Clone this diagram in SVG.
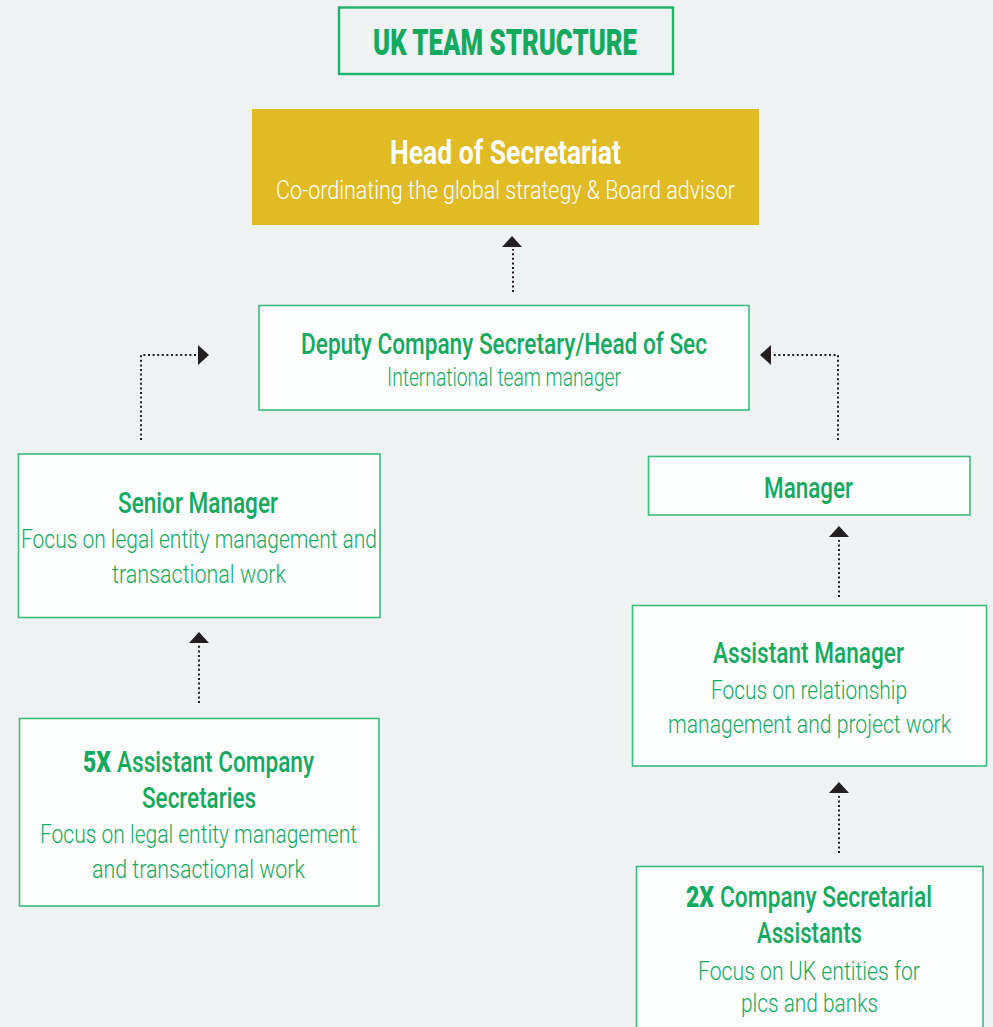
<svg xmlns="http://www.w3.org/2000/svg" width="993" height="1027" viewBox="0 0 993 1027">
<style>
.bg{fill:#eef2f3}
.box{fill:#fdfefe;stroke:#3dbb7b;stroke-width:1.6}
.t{font-family:Roboto,"Liberation Sans",sans-serif;fill:#13aa5f;text-anchor:start}
.h{font-size:29px;font-weight:500}
.b{font-size:25px;font-weight:300}
.x{font-size:29px;font-weight:900}
.dot{fill:none;stroke:#231f20;stroke-width:2;stroke-dasharray:2 2.6}
.arr{fill:#231f20}
</style>
<rect class="bg" x="0" y="0" width="993" height="1027"/>

<g id="title">
<rect x="339" y="7.5" width="334" height="66.5" fill="none" stroke="#1db36a" stroke-width="2.4"/>
<text class="t" x="373" y="55" font-size="37" font-weight="900" textLength="264" lengthAdjust="spacingAndGlyphs">UK TEAM STRUCTURE</text>
</g>

<g id="head">
<rect x="252" y="109" width="507" height="116" fill="#e0bb24"/>
<text class="t" x="390" y="164" font-size="34" font-weight="700" fill="#ffffff" style="fill:#ffffff" textLength="231" lengthAdjust="spacingAndGlyphs">Head of Secretariat</text>
<text class="t" x="276" y="199" font-size="26" font-weight="300" style="fill:#ffffff" textLength="459" lengthAdjust="spacingAndGlyphs">Co-ordinating the global strategy &amp; Board advisor</text>
</g>

<g id="deputy">
<rect class="box" x="259" y="305.5" width="490" height="104.5"/>
<text class="t h" x="301" y="354" textLength="406" lengthAdjust="spacingAndGlyphs">Deputy Company Secretary/Head of Sec</text>
<text class="t b" x="387" y="386" textLength="234" lengthAdjust="spacingAndGlyphs">International team manager</text>
</g>

<g id="senior">
<rect class="box" x="18.5" y="454" width="361.5" height="163.5"/>
<text class="t h" x="118" y="513" textLength="160" lengthAdjust="spacingAndGlyphs">Senior Manager</text>
<text class="t b" x="21" y="548" textLength="356" lengthAdjust="spacingAndGlyphs">Focus on legal entity management and</text>
<text class="t b" x="112" y="583" textLength="174" lengthAdjust="spacingAndGlyphs">transactional work</text>
</g>

<g id="assistant-secretaries">
<rect class="box" x="19.5" y="718.5" width="359.5" height="187.5"/>
<text class="t x" x="83" y="772" textLength="28" lengthAdjust="spacingAndGlyphs">5X</text>
<text class="t h" x="117" y="772" textLength="197" lengthAdjust="spacingAndGlyphs">Assistant Company</text>
<text class="t h" x="142" y="808" textLength="114" lengthAdjust="spacingAndGlyphs">Secretaries</text>
<text class="t b" x="40" y="843" textLength="317" lengthAdjust="spacingAndGlyphs">Focus on legal entity management</text>
<text class="t b" x="92" y="878" textLength="213" lengthAdjust="spacingAndGlyphs">and transactional work</text>
</g>

<g id="manager">
<rect class="box" x="648.5" y="456.5" width="321.5" height="58.5"/>
<text class="t h" x="764" y="498" textLength="89" lengthAdjust="spacingAndGlyphs">Manager</text>
</g>

<g id="assistant-manager">
<rect class="box" x="632.5" y="605.5" width="354" height="160.5"/>
<text class="t h" x="713" y="663" textLength="191" lengthAdjust="spacingAndGlyphs">Assistant Manager</text>
<text class="t b" x="711" y="699" textLength="196" lengthAdjust="spacingAndGlyphs">Focus on relationship</text>
<text class="t b" x="668" y="733" textLength="283" lengthAdjust="spacingAndGlyphs">management and project work</text>
</g>

<g id="assistants">
<rect class="box" x="636.5" y="866.5" width="346.5" height="170"/>
<text class="t x" x="686" y="907" textLength="28" lengthAdjust="spacingAndGlyphs">2X</text>
<text class="t h" x="720" y="907" textLength="212" lengthAdjust="spacingAndGlyphs">Company Secretarial</text>
<text class="t h" x="757" y="943" textLength="105" lengthAdjust="spacingAndGlyphs">Assistants</text>
<text class="t b" x="698" y="980" textLength="222" lengthAdjust="spacingAndGlyphs">Focus on UK entities for</text>
<text class="t b" x="741" y="1012" textLength="137" lengthAdjust="spacingAndGlyphs">plcs and banks</text>
</g>

<g id="connectors">
<path class="dot" d="M513 292 V249"/>
<polygon class="arr" points="502,247 522,247 512,236"/>
<path class="dot" d="M141 440 V355 H197"/>
<polygon class="arr" points="198,345 198,365 209,355"/>
<path class="dot" d="M838 440 V355 H772"/>
<polygon class="arr" points="771,345 771,365 760,355"/>
<path class="dot" d="M199 703 V645"/>
<polygon class="arr" points="189,643 209,643 199,632"/>
<path class="dot" d="M839 597 V540"/>
<polygon class="arr" points="829,537 849,537 839,526"/>
<path class="dot" d="M839 853 V796"/>
<polygon class="arr" points="829,793 849,793 839,782"/>
</g>
</svg>
